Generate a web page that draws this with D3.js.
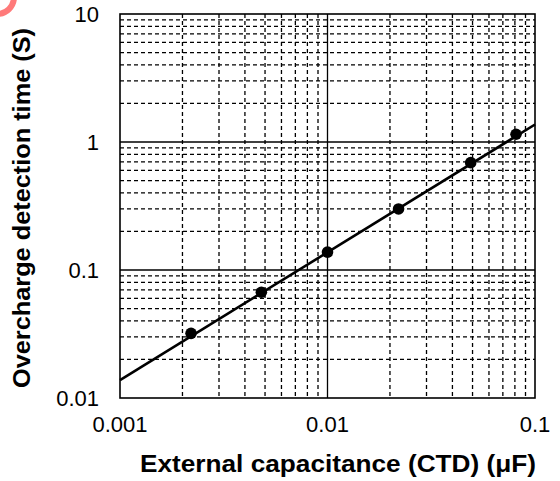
<!DOCTYPE html>
<html><head><meta charset="utf-8">
<script src="https://cdn.jsdelivr.net/npm/d3@7"></script>
<style>body{margin:0;background:#fff}svg{display:block}text{font-family:"Liberation Sans",Arial,Helvetica,sans-serif;fill:#000}</style>
</head><body><svg id="c" width="560" height="481"></svg>
<script>
const capValues = [0.0022, 0.0048, 0.01, 0.022, 0.049, 0.081];
const timeValues = [0.032, 0.067, 0.138, 0.30, 0.69, 1.15];
const fitCap = [0.001, 0.1];
const fitTime = [0.0138, 1.37];
const xTickValues = [0.001, 0.01, 0.1];
const xTickLabels = ["0.001", "0.01", "0.1"];
const yTickValues = [0.01, 0.1, 1, 10];
const yTickLabels = ["0.01", "0.1", "1", "10"];
const xTitle = "External capacitance (CTD) (\u03BCF)";
const yTitle = "Overcharge detection time (S)";

const svg = d3.select("#c");
const L = 120, R = 535, T = 14, B = 398;
const x = d3.scaleLog().domain([0.001, 0.1]).range([L, R]);
const y = d3.scaleLog().domain([0.01, 10]).range([B, T]);

// logo arc
svg.append("circle").attr("cx", -3).attr("cy", -3).attr("r", 17)
  .attr("fill", "none").attr("stroke", "#ff7a7a").attr("stroke-width", 6);

const g = svg.append("g");
// minor grid
const minorX = [], minorY = [];
for (let d = 0.001; d < 0.1 * 0.99; d *= 10) for (let k = 2; k <= 9; k++) minorX.push(d * k);
for (let d = 0.01; d < 10 * 0.99; d *= 10) for (let k = 2; k <= 9; k++) minorY.push(d * k);
g.selectAll(".mx").data(minorX).join("line")
  .attr("x1", d => x(d)).attr("x2", d => x(d)).attr("y1", T).attr("y2", B)
  .attr("stroke", "#000").attr("stroke-width", 1.3).attr("stroke-dasharray", "4,3");
g.selectAll(".my").data(minorY).join("line")
  .attr("y1", d => y(d)).attr("y2", d => y(d)).attr("x1", L).attr("x2", R)
  .attr("stroke", "#000").attr("stroke-width", 1.3).attr("stroke-dasharray", "4,3");
// major grid
g.selectAll(".Mx").data([0.01]).join("line")
  .attr("x1", d => x(d)).attr("x2", d => x(d)).attr("y1", T).attr("y2", B)
  .attr("stroke", "#000").attr("stroke-width", 1.3);
g.selectAll(".My").data([0.1, 1]).join("line")
  .attr("y1", d => y(d)).attr("y2", d => y(d)).attr("x1", L).attr("x2", R)
  .attr("stroke", "#000").attr("stroke-width", 1.3);
// frame
svg.append("rect").attr("x", L).attr("y", T).attr("width", R - L).attr("height", B - T)
  .attr("fill", "none").attr("stroke", "#000").attr("stroke-width", 1.6);

// fit line
const line = d3.line().x(d => x(d[0])).y(d => y(d[1]));
svg.append("path").datum(d3.zip(fitCap, fitTime)).attr("d", line)
  .attr("fill", "none").attr("stroke", "#000").attr("stroke-width", 2.6);
// points
svg.selectAll(".pt").data(d3.zip(capValues, timeValues)).join("circle")
  .attr("cx", d => x(d[0])).attr("cy", d => y(d[1])).attr("r", 5.8).attr("fill", "#000");

// tick labels
svg.selectAll(".xt").data(xTickValues).join("text")
  .attr("x", d => x(d)).attr("y", 432).attr("text-anchor", "middle")
  .attr("font-size", 22).text((d, i) => xTickLabels[i]);
svg.selectAll(".yt").data(yTickValues).join("text")
  .attr("x", 99).attr("y", d => y(d) + 8).attr("text-anchor", "end")
  .attr("font-size", 22).text((d, i) => yTickLabels[i]);

// titles
svg.append("text").attr("x", 338).attr("y", 472).attr("text-anchor", "middle")
  .attr("font-size", 24).attr("font-weight", "bold")
  .attr("textLength", 396).attr("lengthAdjust", "spacingAndGlyphs").text(xTitle);
svg.append("text").attr("transform", "translate(30,208) rotate(-90)").attr("text-anchor", "middle")
  .attr("font-size", 24).attr("font-weight", "bold")
  .attr("textLength", 360).attr("lengthAdjust", "spacingAndGlyphs").text(yTitle);
</script></body></html>
